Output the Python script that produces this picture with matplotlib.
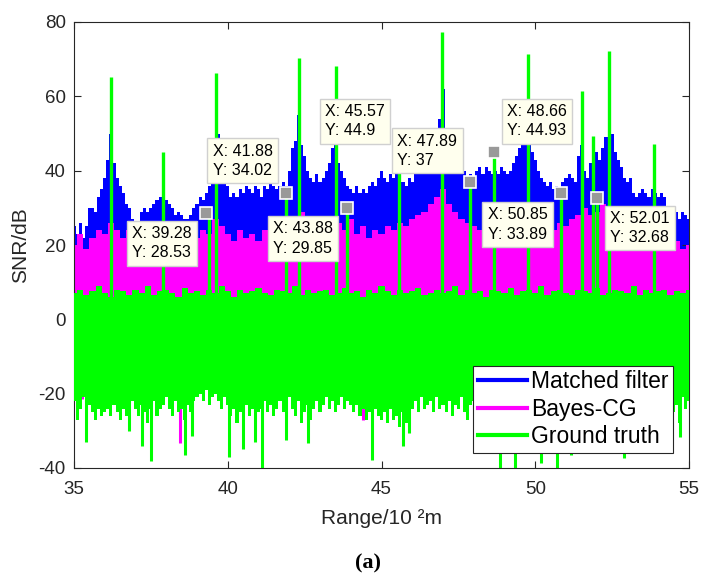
import numpy as np
import matplotlib
matplotlib.use('Agg')
import matplotlib.pyplot as plt
from matplotlib.lines import Line2D

plt.rcParams['font.family'] = ['Liberation Sans', 'DejaVu Sans']
plt.rcParams['axes.unicode_minus'] = False

# ---------------- data ----------------
# Matched filter upper envelope, range 35.0 .. 55.0 every 0.1
mf_upper = [
    25, 23, 26, 22, 25, 30, 30, 29, 33, 35,
    38, 43, 50, 42, 38, 36, 34, 31, 30, 27,
    24, 22, 29, 30, 29, 30, 31, 32, 33, 34,
    32, 31, 30, 28, 29, 28, 27, 27, 28, 30,
    31, 33, 32, 34, 36, 38, 42, 50, 40, 37,
    36, 33, 34, 33, 35, 34, 36, 35, 34, 36,
    35, 33, 36, 35, 37, 36, 35, 36, 37, 36,
    40, 46, 48, 55, 47, 44, 40, 38, 37, 39,
    37, 38, 40, 42, 46, 47, 42, 40, 38, 36,
    35, 34, 36, 34, 35, 34, 36, 37, 36, 38,
    40, 38, 37, 39, 38, 40, 39, 37, 36, 38,
    37, 39, 40, 39, 41, 40, 42, 44, 45, 54,
    62, 50, 43, 42, 40, 41, 39, 40, 38, 39,
    37, 40, 41, 39, 41, 40, 39, 40, 39, 41,
    40, 39, 40, 42, 44, 46, 47, 48, 47, 45,
    43, 40, 38, 37, 36, 37, 35, 36, 35, 37,
    38, 39, 38, 37, 44, 47, 40, 38, 42, 44,
    45, 43, 46, 49, 57, 50, 45, 43, 41, 38,
    37, 38, 34, 33, 34, 35, 34, 33, 35, 34,
    33, 34, 33, 28, 26, 28, 29, 27, 29, 28,
    27,
]

# Bayes-CG upper envelope, range 35.0 .. 55.0 every 0.2
bcg_upper = [
    20, 23, 19, 22, 24, 23, 26, 24, 22, 24,
    21, 23, 22, 24, 23, 25, 22, 24, 21, 23,
    22, 24, 23, 27, 25, 23, 21, 24, 22, 23,
    21, 24, 22, 23, 25, 24, 27, 29, 25, 23,
    24, 22, 25, 26, 24, 27, 23, 25, 22, 24,
    23, 25, 24, 26, 25, 27, 28, 29, 31, 33,
    35, 31, 29, 27, 26, 25, 24, 22, 24, 23,
    22, 24, 23, 26, 27, 25, 24, 22, 24, 26,
    25, 27, 28, 30, 28, 29, 31, 30, 27, 25,
    24, 23, 25, 22, 23, 21, 22, 20, 21, 19,
    20,
]

# Ground truth noise band, upper (every 0.2) and lower (every 0.1)
gt_upper = [
    7, 8, 6.5, 7.5, 9, 7, 6, 8, 7.5, 6.5,
    8, 7, 9, 6.5, 7.5, 8, 7, 6, 8.5, 7,
    7.5, 6.5, 8, 7, 9, 7.5, 6, 8, 7, 7.5,
    8.5, 7, 6.5, 8, 7.5, 7, 9, 6.5, 8, 7,
    7.5, 8, 6.5, 7, 8.5, 7, 7.5, 6, 8, 7,
    9, 7.5, 6.5, 8, 7, 7.5, 8.5, 6.5, 7, 8,
    7, 7.5, 9, 6.5, 8, 7, 7.5, 6, 8, 7.5,
    7, 8.5, 6.5, 7.5, 8, 7, 9, 6.5, 7.5, 8,
    7, 6.5, 8, 7.5, 7, 8.5, 6.5, 7, 8, 7.5,
    7, 9, 6.5, 8, 7, 7.5, 8, 6.5, 7.5, 7,
    8,
]
gt_lower = [
    -22, -27, -24, -21, -26, -23, -25, -27, -24, -26,
    -25, -24, -26, -23, -25, -27, -24, -26, -25, -22,
    -24, -26, -23, -25, -28, -24, -22, -26, -24, -23,
    -21, -24, -26, -22, -25, -24, -27, -23, -25, -22,
    -21, -20, -22, -19, -23, -21, -20, -22, -24, -21,
    -23, -26, -24, -28, -25, -27, -23, -26, -24, -28,
    -25, -24, -22, -25, -23, -26, -24, -22, -25, -23,
    -21, -24, -26, -22, -28, -25, -23, -27, -24, -22,
    -25, -23, -21, -24, -22, -25, -23, -21, -24, -22,
    -23, -25, -23, -26, -24, -27, -25, -28, -24, -26,
    -27, -25, -28, -24, -27, -26, -29, -25, -28, -26,
    -24, -22, -25, -21, -24, -23, -22, -25, -21, -24,
    -23, -25, -22, -26, -23, -24, -21, -25, -27, -23,
    -22, -24, -26, -22, -25, -27, -24, -26, -23, -25,
    -24, -26, -23, -25, -27, -24, -26, -22, -25, -24,
    -27, -25, -23, -26, -24, -27, -25, -23, -26, -24,
    -25, -23, -26, -24, -22, -25, -27, -23, -26, -24,
    -22, -25, -23, -26, -24, -27, -25, -22, -26, -28,
    -24, -23, -26, -24, -22, -25, -23, -27, -24, -22,
    -25, -23, -21, -24, -22, -25, -23, -28, -21, -24,
    -22,
]

# deep narrow dips of the noise
gt_dip_x = [35.4, 36.8, 37.2, 37.5, 38.6, 38.85, 40.03, 40.5, 40.9, 41.1,
            41.9, 42.6, 44.7, 45.7, 45.9, 48.85, 49.33, 50.2, 50.7, 51.15,
            52.9, 54.7]
gt_dip_y = [-33, -30, -34, -38, -36.5, -31.5, -37, -35, -33, -40,
            -32.5, -33.3, -37.8, -34.2, -30.6, -40, -40, -38.7, -40, -36.5,
            -37.4, -31.6]
bcg_dip_x = [35.25, 38.45, 44.4]
bcg_dip_y = [-21.5, -33.3, -27]

# ground-truth target peaks
target_x = [36.2, 37.9, 39.63, 42.32, 43.52, 46.97, 49.76, 51.52, 51.88, 52.4,
            53.87, 39.40, 41.88, 43.88, 45.57, 47.89, 48.66, 50.85, 52.01]
target_y = [65.2, 45, 66.3, 70.3, 68.2, 77.3, 71.3, 61.5, 49.3, 72.2,
            47.2, 27.5, 34.02, 29.85, 44.9, 37, 44.93, 33.89, 32.68]

# data tips
tip_x = [39.28, 41.88, 43.88, 45.57, 47.89, 48.66, 50.85, 52.01]
tip_y = [28.53, 34.02, 29.85, 44.9, 37, 44.93, 33.89, 32.68]

legend_labels = ['Matched filter', 'Bayes-CG', 'Ground truth']

# ---------------- layout / style ----------------
BLUE, MAG, GRN = '#0000FF', '#FF00FF', '#00FF00'
AXC = '#262626'
# box corner offsets (pixels) and alignment of each data tip
tip_layout = [(-9, -8, 'right', 'top'), (-8, 10, 'right', 'bottom'),
              (-9, -8, 'right', 'top'), (-9, 9, 'right', 'bottom'),
              (-8, 9, 'right', 'bottom'), (8, 9, 'left', 'bottom'),
              (-9, -9, 'right', 'top'), (8, -8, 'left', 'top')]

fig = plt.figure(figsize=(7.02, 5.74), dpi=100)
ax = fig.add_axes([74 / 702, 1 - 468 / 574, 615 / 702, 446 / 574])

x_fine = np.linspace(35, 55, len(mf_upper))
x_coarse = np.linspace(35, 55, len(bcg_upper))

ax.fill_between(x_fine, 0, mf_upper, step='mid', color=BLUE, lw=0, zorder=1)
ax.fill_between(x_coarse, 0, bcg_upper, step='mid', color=MAG, lw=0, zorder=2)
ax.vlines(bcg_dip_x, -20, bcg_dip_y, color=MAG, lw=2.2, zorder=2)

ax.fill_between(x_coarse, -1, gt_upper, step='mid', color=GRN, lw=0, zorder=3)
ax.fill_between(x_fine, gt_lower, 1, step='mid', color=GRN, lw=0, zorder=3)
ax.vlines(gt_dip_x, -20, gt_dip_y, color=GRN, lw=2.2, zorder=3)
ax.vlines(target_x, 0, target_y, color=GRN, lw=2.4, zorder=3)

ax.plot(tip_x, tip_y, ls='none', marker='s', ms=9, mfc='#999999',
        mec='white', mew=1.2, zorder=5)

for x, y, (dx, dy, ha, va) in zip(tip_x, tip_y, tip_layout):
    p = 5
    tx = dx - p if ha == 'right' else dx + p
    ty = dy - p if va == 'top' else dy + p
    ax.annotate(f'X: {x:g}\nY: {y:g}', xy=(x, y), xytext=(tx, ty),
                textcoords='offset pixels', ha=ha, va=va, fontsize=11.5,
                multialignment='left',
                linespacing=1.35, color='black', zorder=6,
                bbox=dict(boxstyle='square,pad=0.33', fc='#FFFFEE',
                          ec='#D0D0D0', lw=1))

ax.set_xlim(35, 55)
ax.set_ylim(-40, 80)
ax.set_xticks([35, 40, 45, 50, 55])
ax.set_yticks([-40, -20, 0, 20, 40, 60, 80])
ax.tick_params(direction='in', top=True, right=True, length=5, width=0.8,
               colors=AXC, labelsize=13.5, labelcolor=AXC)
ax.tick_params(axis='x', pad=9)
ax.tick_params(axis='y', pad=6)
for s in ax.spines.values():
    s.set_color(AXC)
    s.set_linewidth(0.8)

ax.set_xlabel('Range/10 ²m', fontsize=15, color=AXC, labelpad=8)
ax.set_ylabel('SNR/dB', fontsize=15, color=AXC, labelpad=6)

handles = [Line2D([], [], color=c, lw=3) for c in (BLUE, MAG, GRN)]
leg = ax.legend(handles, legend_labels, loc='lower right',
                bbox_to_anchor=(0.974, 0.034), fontsize=16.5, frameon=True,
                fancybox=False, edgecolor=AXC, framealpha=1,
                handlelength=2.14, handletextpad=0.18, labelspacing=0.2,
                borderpad=0.2, borderaxespad=0)
leg.get_frame().set_linewidth(0.8)
leg.set_zorder(7)

fig.text(368 / 702, 1 - 563 / 574, '(a)', ha='center', va='center',
         fontsize=16, fontweight='bold', family=['Liberation Serif', 'DejaVu Serif'])

fig.savefig('out.png', dpi=100)
